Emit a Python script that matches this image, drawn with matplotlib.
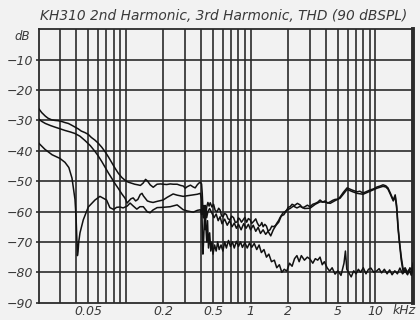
import matplotlib
matplotlib.use("Agg")
import matplotlib.pyplot as plt
from matplotlib.ticker import FixedLocator, NullFormatter

title = "KH310 2nd Harmonic, 3rd Harmonic, THD (90 dBSPL)"

x_ticks = [0.05, 0.2, 0.5, 1, 2, 5, 10]
x_tick_labels = ["0.05", "0.2", "0.5", "1", "2", "5", "10"]
y_ticks = [-10, -20, -30, -40, -50, -60, -70, -80, -90]
y_tick_labels = ["\u221210", "\u221220", "\u221230", "\u221240", "\u221250",
                 "\u221260", "\u221270", "\u221280", "\u221290"]

# THD
thd_f = [0.020, 0.0212, 0.0227, 0.0239, 0.0255, 0.0271, 0.0288, 0.031, 0.0326, 0.0347,
         0.037, 0.0392, 0.0417, 0.044, 0.0471, 0.0501, 0.053, 0.0567, 0.0602, 0.0642,
         0.0683, 0.0726, 0.0771, 0.0820, 0.0872, 0.0931, 0.0987, 0.1044, 0.1117, 0.118,
         0.125, 0.131, 0.138, 0.144, 0.149, 0.157, 0.166, 0.178, 0.19, 0.199,
         0.213, 0.227, 0.24, 0.258, 0.275, 0.289, 0.3, 0.311, 0.33, 0.347,
         0.36, 0.374, 0.386, 0.396, 0.405, 0.41, 0.415, 0.42, 0.426, 0.432,
         0.438, 0.445, 0.455, 0.465, 0.475, 0.49, 0.505, 0.52, 0.538, 0.555,
         0.57, 0.585, 0.601, 0.62, 0.64, 0.66, 0.685, 0.705, 0.73, 0.755,
         0.78, 0.80, 0.82, 0.845, 0.871, 0.90, 0.93, 0.96, 0.991, 1.02,
         1.06, 1.1, 1.13, 1.17, 1.2, 1.23, 1.26, 1.3, 1.34, 1.38,
         1.43, 1.48, 1.52, 1.58, 1.63, 1.68, 1.72, 1.77, 1.82, 1.88,
         1.95, 2.0, 2.07, 2.15, 2.25, 2.37, 2.49, 2.6, 2.7, 2.85,
         2.99, 3.15, 3.3, 3.45, 3.6, 3.78, 3.95, 4.15, 4.34, 4.55,
         4.75, 5.0, 5.21, 5.55, 5.93, 6.5, 7.13, 7.5, 7.96, 8.5,
         9.06, 9.7, 10.3, 10.9, 11.5, 12.1, 12.6, 13.2, 13.9, 14.4,
         14.8, 15.2, 15.6, 16.1, 16.7, 17.3, 18.0, 18.7, 19.4, 20.0]
thd_db = [-26.0, -27.4, -28.6, -29.3, -29.8, -30.0, -30.1, -30.4, -30.7, -31.0,
          -31.6, -32.2, -32.8, -33.5, -34.0, -34.6, -35.6, -36.5, -37.5, -38.8,
          -40.3, -42.0, -43.8, -45.7, -47.4, -48.8, -49.7, -50.3, -50.7, -51.0,
          -51.2, -51.4, -50.6, -49.4, -49.9, -51.2, -52.0, -51.0, -50.9, -51.0,
          -51.1, -50.9, -51.0, -51.0, -51.4, -51.6, -52.3, -51.8, -51.3, -51.9,
          -52.2, -51.2, -50.6, -50.4, -50.9, -54.0, -59.0, -62.0, -58.0, -66.0,
          -61.0, -58.5, -57.0, -58.2, -57.1, -58.5, -57.6, -59.6, -60.1, -58.9,
          -59.5, -61.4, -61.7, -60.6, -61.0, -62.4, -62.7, -61.5, -62.0, -63.6,
          -63.4, -62.1, -62.5, -63.5, -62.7, -61.9, -63.5, -62.3, -62.7, -63.9,
          -63.2, -62.4, -63.7, -64.8, -64.5, -63.6, -65.0, -64.2, -64.8, -66.4,
          -66.0, -64.8, -65.0, -64.6, -63.7, -62.9, -62.0, -61.2, -60.4, -60.1,
          -59.5, -58.6, -58.4, -57.6, -58.0, -57.3, -57.8, -58.7, -58.5, -57.9,
          -58.4, -57.6, -57.3, -56.9, -56.2, -56.9, -56.5, -57.2, -56.8, -56.3,
          -56.0, -55.9, -55.2, -53.6, -52.2, -52.9, -53.5, -53.3, -53.9, -53.4,
          -52.9, -52.5, -51.9, -51.6, -51.2, -51.5, -52.2, -54.0, -56.2, -54.5,
          -58.0, -65.0, -70.0, -74.9, -79.2, -78.5, -80.0, -79.0, -80.5, -78.0]

# 2nd harmonic
h2_f = [0.020, 0.0212, 0.0227, 0.025, 0.0271, 0.03, 0.0326, 0.036, 0.0392, 0.043,
        0.0471, 0.052, 0.0567, 0.06, 0.0642, 0.0683, 0.0726, 0.0771, 0.082, 0.0872,
        0.0931, 0.0987, 0.1026, 0.106, 0.11, 0.1146, 0.12, 0.125, 0.1306, 0.135,
        0.1382, 0.1489, 0.1566, 0.1655, 0.18, 0.1992, 0.215, 0.2397, 0.258, 0.2885,
        0.31, 0.3475, 0.3743, 0.3958, 0.405, 0.41, 0.415, 0.42, 0.427, 0.435,
        0.445, 0.455, 0.47, 0.49, 0.51, 0.53, 0.55, 0.57, 0.59, 0.62,
        0.65, 0.68, 0.71, 0.74, 0.77, 0.80, 0.84, 0.88, 0.92, 0.96,
        1.0, 1.05, 1.1, 1.15, 1.2, 1.26, 1.32, 1.38, 1.45, 1.52,
        1.6, 1.68, 1.76, 1.85, 1.95, 2.07, 2.2, 2.35, 2.49, 2.7,
        2.99, 3.3, 3.6, 3.95, 4.34, 4.75, 5.21, 5.55, 5.93, 6.5,
        7.13, 7.96, 9.06, 10.3, 11.5, 12.1, 12.6, 13.2, 13.9, 14.4,
        14.8, 15.2, 16.1, 16.7, 17.3, 18.0, 18.7, 19.4, 20.0]
h2_db = [-29.5, -30.3, -31.0, -31.7, -32.2, -32.8, -33.3, -33.8, -34.3, -35.2,
         -36.6, -38.3, -40.2, -41.6, -43.5, -45.4, -47.3, -49.0, -50.8, -52.4,
         -54.2, -55.6, -57.2, -56.5, -55.8, -55.5, -56.5, -56.0, -54.4, -54.0,
         -54.8, -56.5, -56.8, -57.0, -56.6, -56.2, -55.3, -54.2, -54.6, -55.0,
         -54.8, -54.5, -54.3, -54.0, -56.0, -65.0, -74.0, -70.0, -62.0, -58.0,
         -62.0, -60.0, -59.0, -60.5, -62.0, -60.8, -63.0, -61.7, -64.0, -62.5,
         -64.5, -63.0, -65.0, -63.8, -65.5, -64.2, -66.0, -64.0, -65.5, -64.2,
         -66.0, -64.5, -66.5, -65.2, -67.2, -66.0, -67.5, -66.5, -68.0, -66.0,
         -64.5, -63.5, -61.5, -61.0, -59.5, -59.0, -58.2, -58.8, -58.3, -59.0,
         -58.9, -57.6, -56.8, -56.9, -57.3, -56.4, -55.6, -54.2, -52.7, -53.4,
         -54.0, -54.3, -53.3, -52.3, -51.7, -51.9, -52.6, -54.4, -56.5, -55.0,
         -59.0, -66.0, -76.0, -80.0, -79.0, -80.5, -79.5, -81.0, -78.5]

# 3rd harmonic
h3_f = [0.020, 0.0225, 0.0257, 0.0297, 0.0326, 0.035, 0.0371, 0.038, 0.0392, 0.0400,
        0.0405, 0.041, 0.0415, 0.042, 0.043, 0.0457, 0.0501, 0.0567, 0.0621, 0.0702,
        0.0746, 0.08, 0.0845, 0.09, 0.0952, 0.1026, 0.1083, 0.115, 0.1226, 0.13,
        0.1382, 0.1489, 0.1566, 0.165, 0.1784, 0.1992, 0.2268, 0.258, 0.2885, 0.3107,
        0.3475, 0.3743, 0.3958, 0.405, 0.412, 0.42, 0.43, 0.437, 0.445, 0.452,
        0.46, 0.47, 0.48, 0.49, 0.50, 0.515, 0.53, 0.545, 0.56, 0.58,
        0.60, 0.62, 0.64, 0.665, 0.69, 0.715, 0.74, 0.77, 0.8, 0.83,
        0.86, 0.9, 0.94, 0.98, 1.02, 1.07, 1.12, 1.17, 1.22, 1.28,
        1.34, 1.4, 1.47, 1.55, 1.62, 1.7, 1.78, 1.86, 1.95, 2.05,
        2.15, 2.25, 2.35, 2.45, 2.55, 2.7, 2.85, 3.0, 3.15, 3.3,
        3.45, 3.6, 3.75, 3.9, 4.1, 4.3, 4.5, 4.75, 5.0, 5.3,
        5.6, 5.75, 5.9, 6.1, 6.4, 6.7, 7.0, 7.3, 7.6, 8.0,
        8.4, 8.8, 9.2, 9.7, 10.2, 10.7, 11.2, 11.8, 12.4, 13.0,
        13.6, 14.3, 15.0, 15.7, 16.5, 17.3, 18.1, 18.9, 19.5, 20.0]
h3_db = [-37.4, -39.5, -41.3, -42.5, -43.8, -45.5, -49.0, -52.0, -56.0, -62.0,
         -68.0, -74.5, -73.0, -70.0, -67.0, -62.7, -58.5, -56.2, -55.0, -56.2,
         -58.7, -59.3, -58.6, -58.5, -58.8, -58.2, -57.2, -58.2, -59.2, -58.4,
         -58.4, -60.1, -60.4, -59.5, -58.7, -58.6, -58.4, -57.8, -59.4, -59.8,
         -60.2, -59.6, -59.4, -61.0, -59.0, -62.0, -60.0, -64.0, -70.0, -63.0,
         -72.0, -67.0, -73.0, -70.0, -74.0, -71.0, -73.0, -70.0, -72.5, -71.0,
         -73.0, -70.0, -72.0, -69.5, -71.5, -70.0, -72.0, -69.8, -71.5, -70.0,
         -71.8, -70.2, -72.0, -70.4, -71.8, -70.5, -72.5, -71.0, -73.5, -72.5,
         -75.0, -74.0, -76.5, -76.0, -78.5, -77.5, -80.0, -79.0, -79.6, -77.0,
         -78.0, -75.5, -74.5, -76.5, -74.5, -76.0, -75.0, -75.7, -77.0, -75.5,
         -76.0, -75.0, -77.5, -76.5, -78.5, -79.6, -78.5, -80.6, -79.5, -81.0,
         -77.0, -73.0, -79.0, -80.0, -81.5, -79.5, -80.5, -79.0, -80.0, -78.5,
         -80.5, -79.0, -78.6, -80.0, -79.6, -78.8, -80.2, -79.0, -80.5, -79.2,
         -80.8, -79.5, -80.5, -78.6, -80.5, -79.6, -80.8, -78.5, -79.5, -77.0]

bg = "#f2f2f2"
grid_c = "#2b2b2b"
text_c = "#3a3a3a"

fig = plt.figure(figsize=(4.2, 3.2), dpi=100, facecolor=bg)
ax = fig.add_axes([38.5 / 420, 1 - 302.7 / 320, (413 - 38.5) / 420, (302.7 - 29.3) / 320])
ax.set_facecolor(bg)

ax.set_xscale("log")
ax.set_xlim(0.02, 20)
ax.set_ylim(-90, 0)

# grid
minor = []
for dec in [0.01, 0.1, 1, 10]:
    for m in range(1, 10):
        v = dec * m
        if 0.02 < v < 20:
            minor.append(v)
for v in minor:
    ax.axvline(v, color=grid_c, lw=1.2, zorder=1)
for v in y_ticks[:-1]:
    ax.axhline(v, color=grid_c, lw=1.2, zorder=1)

for f, d in [(thd_f, thd_db), (h2_f, h2_db), (h3_f, h3_db)]:
    ax.plot(f, d, color="#111111", lw=1.1, zorder=3)

for s in ax.spines.values():
    s.set_color(grid_c)
    s.set_linewidth(1.3)
ax.spines["right"].set_linewidth(2.8)

ax.xaxis.set_major_locator(FixedLocator(x_ticks))
ax.xaxis.set_minor_formatter(NullFormatter())
ax.xaxis.set_minor_locator(FixedLocator([]))
ax.set_xticklabels(x_tick_labels)
ax.set_yticks(y_ticks)
ax.set_yticklabels(y_tick_labels)
ax.tick_params(axis="x", length=0, pad=2, labelsize=9, labelcolor=text_c)
ax.tick_params(axis="y", length=2.5, width=1.2, color=grid_c, pad=1.5,
               labelsize=9, labelcolor=text_c)
for lab in ax.get_xticklabels() + ax.get_yticklabels():
    lab.set_fontstyle("italic")

ax.text(-0.022, 0.975, "dB", transform=ax.transAxes, ha="right", va="center",
        fontsize=8.5, style="italic", color=text_c)
ax.text(0.975, -0.029, "kHz", transform=ax.transAxes, ha="center", va="center",
        fontsize=9, style="italic", color=text_c)

fig.text(224 / 420, 1 - 16 / 320, title, ha="center", va="center",
         fontsize=9.9, style="italic", color=text_c)

fig.savefig("out.png", dpi=100, facecolor=bg)
